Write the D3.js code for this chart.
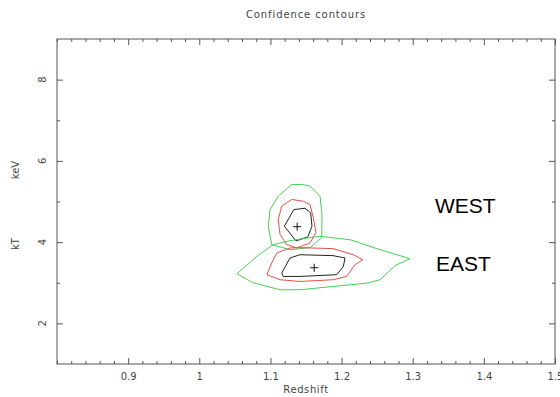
<!DOCTYPE html>
<html><head><meta charset="utf-8">
<script src="https://cdn.jsdelivr.net/npm/d3@7"></script>
<style>
html,body{margin:0;padding:0;background:#fff;}
svg{display:block;}
text{font-family:"DejaVu Sans",sans-serif;}
</style></head>
<body><svg id="c" width="560" height="397"></svg>
<script>
// ---- data ----
const xMajorTicks = [0.9, 1.0, 1.1, 1.2, 1.3, 1.4, 1.5];
const xTickLabels = ["0.9", "1", "1.1", "1.2", "1.3", "1.4", "1.5"];
const yMajorTicks = [2, 4, 6, 8];
const yTickLabels = ["2", "4", "6", "8"];
const xDomain = [0.8, 1.5];
const yDomain = [1, 9];

// best-fit points [redshift, kT]
const westBest = [1.1376, 4.38];
const eastBest = [1.1615, 3.37];

// contour polygons [redshift, kT]
const westInner = [[1.1329,4.80],[1.1486,4.835],[1.1566,4.72],[1.1584,4.39],[1.1524,4.128],[1.136,4.03],[1.1195,4.39]];
const westMiddle = [[1.111,4.556],[1.1159,4.884],[1.1299,5.05],[1.1462,5.007],[1.1556,4.926],[1.1603,4.60],[1.164,4.235],[1.1556,3.98],[1.137,3.857],[1.1229,3.94],[1.1135,4.188]];
const westOuter = [[1.097,4.39],[1.0994,4.80],[1.111,5.13],[1.1299,5.42],[1.144,5.42],[1.1556,5.38],[1.1697,5.13],[1.1725,4.679],[1.1721,4.11],[1.1556,3.864],[1.1275,3.815],[1.1018,3.94]];
const eastInner = [[1.1159,3.24],[1.1275,3.61],[1.1416,3.69],[1.188,3.667],[1.2048,3.61],[1.2025,3.40],[1.1932,3.198],[1.1416,3.156],[1.118,3.156]];
const eastMiddle = [[1.095,3.198],[1.1018,3.486],[1.1088,3.733],[1.1275,3.857],[1.1416,3.864],[1.188,3.84],[1.2165,3.69],[1.2297,3.568],[1.2189,3.444],[1.2072,3.156],[1.188,3.074],[1.1416,3.032],[1.1135,3.074]];
const eastOuter = [[1.053,3.222],[1.081,3.65],[1.104,3.94],[1.1275,4.037],[1.1556,4.11],[1.1697,4.143],[1.2119,4.06],[1.24,3.896],[1.254,3.815],[1.2962,3.593],[1.275,3.42],[1.254,3.074],[1.2353,2.99],[1.188,2.909],[1.1416,2.827],[1.1135,2.827],[1.0755,3.0]];

const contourLevels = ["inner", "middle", "outer"];
const levelColors = ["#222222", "#e0504a", "#46d056"];

const labels = [
  {text: "WEST", pos: [1.3312, 4.72]},
  {text: "EAST", pos: [1.3326, 3.29]}
];

// ---- drawing ----
const svg = d3.select("#c");
const L = 57, R = 555, T = 39, B = 364;
const x = d3.scaleLinear().domain(xDomain).range([L, R]);
const y = d3.scaleLinear().domain(yDomain).range([B, T]);
const axisColor = "#555";
const textColor = "#444";

// minor tick values
const xMinor = d3.range(0, 36).map(i => +(0.8 + i * 0.02).toFixed(2)).filter(v => !xMajorTicks.some(m => Math.abs(m - v) < 1e-6));
const yMinor = [3, 5, 7];

function styleAxis(g) {
  g.select(".domain").remove();
  g.selectAll("line").attr("stroke", axisColor).attr("stroke-width", 1);
}

// bottom
svg.append("g").attr("transform", `translate(0,${B})`)
  .call(d3.axisBottom(x).tickValues(xMajorTicks).tickSize(-6).tickPadding(9).tickFormat((d, i) => xTickLabels[i]))
  .call(styleAxis)
  .call(g => g.selectAll("text").attr("fill", textColor).style("font-size", "10px").style("font-family", "DejaVu Sans, sans-serif"));
svg.append("g").attr("transform", `translate(0,${B})`)
  .call(d3.axisBottom(x).tickValues(xMinor).tickSize(-3).tickFormat(""))
  .call(styleAxis);
// top
svg.append("g").attr("transform", `translate(0,${T})`)
  .call(d3.axisTop(x).tickValues(xMajorTicks).tickSize(-6).tickFormat(""))
  .call(styleAxis);
svg.append("g").attr("transform", `translate(0,${T})`)
  .call(d3.axisTop(x).tickValues(xMinor).tickSize(-3).tickFormat(""))
  .call(styleAxis);
// left
svg.append("g").attr("transform", `translate(${L},0)`)
  .call(d3.axisLeft(y).tickValues(yMajorTicks).tickSize(-6).tickFormat(""))
  .call(styleAxis);
svg.append("g").attr("transform", `translate(${L},0)`)
  .call(d3.axisLeft(y).tickValues(yMinor).tickSize(-3).tickFormat(""))
  .call(styleAxis);
// right
svg.append("g").attr("transform", `translate(${R},0)`)
  .call(d3.axisRight(y).tickValues(yMajorTicks).tickSize(-6).tickFormat(""))
  .call(styleAxis);
svg.append("g").attr("transform", `translate(${R},0)`)
  .call(d3.axisRight(y).tickValues(yMinor).tickSize(-3).tickFormat(""))
  .call(styleAxis);

// y tick labels (rotated)
svg.append("g").selectAll("text").data(yMajorTicks).join("text")
  .attr("transform", d => `translate(46,${y(d)}) rotate(-90)`)
  .attr("text-anchor", "middle")
  .attr("fill", textColor)
  .style("font-size", "10px")
  .text((d, i) => yTickLabels[i]);

// frame
svg.append("rect").attr("x", L).attr("y", T).attr("width", R - L).attr("height", B - T)
  .attr("fill", "none").attr("stroke", axisColor).attr("stroke-width", 1);

// title and axis labels
svg.append("text").attr("x", (L + R) / 2).attr("y", 18).attr("text-anchor", "middle")
  .attr("fill", textColor).style("font-size", "10px").style("letter-spacing", "0.9px").text("Confidence contours");
svg.append("text").attr("x", (L + R) / 2).attr("y", 393).attr("text-anchor", "middle")
  .attr("fill", textColor).style("font-size", "10px").style("letter-spacing", "0.6px").text("Redshift");
svg.append("text").attr("transform", `translate(19,244) rotate(-90)`).attr("text-anchor", "middle")
  .attr("fill", textColor).style("font-size", "10px").text("kT");
svg.append("text").attr("transform", `translate(19,170) rotate(-90)`).attr("text-anchor", "middle")
  .attr("fill", textColor).style("font-size", "10px").text("keV");

// contours
const line = d3.line().x(d => x(d[0])).y(d => y(d[1])).curve(d3.curveLinearClosed);
const sets = [
  [westInner, westMiddle, westOuter],
  [eastInner, eastMiddle, eastOuter]
];
sets.forEach(set => {
  set.forEach((poly, i) => {
    svg.append("path").attr("d", line(poly)).attr("fill", "none")
      .attr("stroke", levelColors[i]).attr("stroke-width", 1);
  });
});

// best-fit markers
[westBest, eastBest].forEach(p => {
  const cx = x(p[0]), cy = y(p[1]);
  svg.append("path").attr("d", `M${cx - 4},${cy}H${cx + 4}M${cx},${cy - 4}V${cy + 4}`)
    .attr("stroke", "#111").attr("stroke-width", 1);
});

// region labels
svg.append("g").selectAll("text").data(labels).join("text")
  .attr("x", d => x(d.pos[0])).attr("y", d => y(d.pos[1]))
  .attr("fill", "#000")
  .style("font-family", "Liberation Sans, Arial, sans-serif")
  .style("font-size", "21px")
  .text(d => d.text);
</script>
</body></html>
